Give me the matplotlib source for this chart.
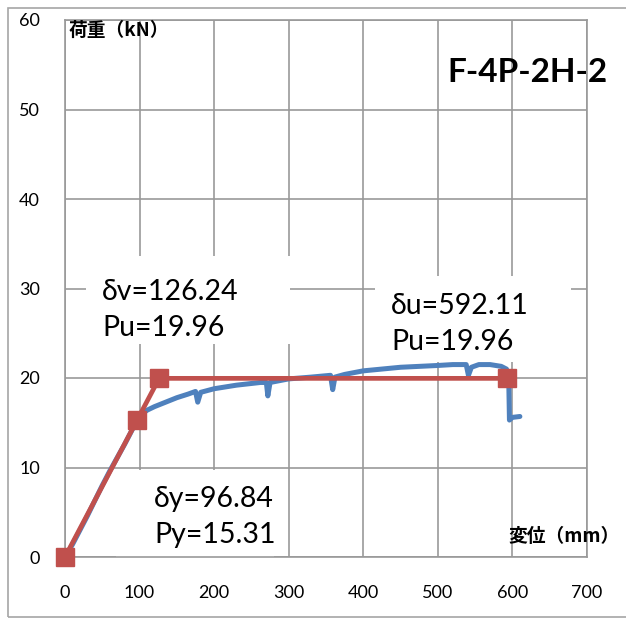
import matplotlib
matplotlib.use("Agg")
import matplotlib.pyplot as plt
from matplotlib.patches import Rectangle

# ---- data ----
disp = [0, 10, 20, 30, 40, 50, 60, 70, 80, 90, 97, 100, 110, 120, 135, 150, 165, 175, 178, 182,
        200, 230, 262, 270, 272, 275, 300, 330, 356, 359, 362, 375, 400, 425, 450, 475, 500,
        520, 538, 541, 545, 555, 570, 585, 592, 595, 596, 600, 610]
load = [0, 1.4, 3.0, 4.6, 6.3, 8.0, 9.6, 11.1, 12.6, 14.2, 15.3, 15.8, 16.4, 16.8, 17.3, 17.8, 18.2, 18.5, 17.3, 18.4,
        18.8, 19.2, 19.5, 19.5, 18.0, 19.5, 19.9, 20.1, 20.3, 18.7, 20.1, 20.4, 20.8, 21.0, 21.2, 21.3, 21.4,
        21.5, 21.5, 20.3, 21.2, 21.5, 21.5, 21.3, 21.0, 20.0, 15.3, 15.6, 15.7]
bilin_x = [0, 96.84, 126.24, 592.11]
bilin_y = [0, 15.31, 19.96, 19.96]
x_ticks = [0, 100, 200, 300, 400, 500, 600, 700]
y_ticks = [0, 10, 20, 30, 40, 50, 60]

W, H = 626, 619
fig = plt.figure(figsize=(W / 100, H / 100), dpi=100)
fig.patch.set_facecolor("white")
# outer chart border
fig.add_artist(Rectangle((8 / W, 2 / H), 1.2, (611 - 2) / H, transform=fig.transFigure,
                         fill=False, edgecolor="#A6A6A6", linewidth=1.2))

ax = fig.add_axes([65 / W, (H - 557) / H, (587 - 65) / W, (557 - 20) / H])
ax.set_xlim(0, 700)
ax.set_ylim(0, 60)
ax.set_xticks(x_ticks)
ax.set_yticks(y_ticks)
ax.grid(True, color="#999999", linewidth=1.2)
ax.set_axisbelow(True)
for s in ax.spines.values():
    s.set_color("#999999")
    s.set_linewidth(1.2)
ax.tick_params(length=0, labelsize=13, pad=18)
ax.tick_params(axis="x", pad=20)
for lbl in ax.get_xticklabels() + ax.get_yticklabels():
    lbl.set_family("Lato")

ax.plot(disp, load, color="#4F81BD", linewidth=3.6, zorder=3, solid_capstyle="round",
        solid_joinstyle="round")
ax.plot(bilin_x, bilin_y, color="#C0504D", linewidth=3.4, marker="s", markersize=12.5,
        zorder=4, clip_on=False)

fp = dict(family="Lato", fontsize=20.5, color="black", linespacing=1.48)

def box(x0, y0, x1, y1):
    ax.add_artist(Rectangle((x0 / W, 1 - y1 / H), (x1 - x0) / W, (y1 - y0) / H,
                            transform=fig.transFigure, facecolor="white",
                            edgecolor="none", zorder=2))

box(86, 256, 290, 344)
box(375, 276, 571, 362)
box(116, 470, 274, 570)

fig.text(102 / W, 1 - 279 / H, "δv=126.24\nPu=19.96", va="top", ha="left", **fp)
fig.text(391 / W, 1 - 293 / H, "δu=592.11\nPu=19.96", va="top", ha="left", **fp)
fig.text(154 / W, 1 - 486 / H, "δy=96.84\nPy=15.31", va="top", ha="left", **fp)

fig.text(447 / W, 1 - 72 / H, "F-4P-2H-2", va="center", ha="left",
         family="Lato", fontweight="bold", fontsize=24)
fig.text(69 / W, 1 - 30 / H, "荷重（kN）", va="center", ha="left",
         family=["Noto Sans CJK JP", "DejaVu Sans"], fontweight="bold", fontsize=13.5)
fig.text(508 / W, 1 - 537 / H, "変位（mm）", va="center", ha="left",
         family=["Noto Sans CJK JP", "DejaVu Sans"], fontweight="bold", fontsize=13.5)

fig.savefig("out.png", dpi=100, facecolor="white")
